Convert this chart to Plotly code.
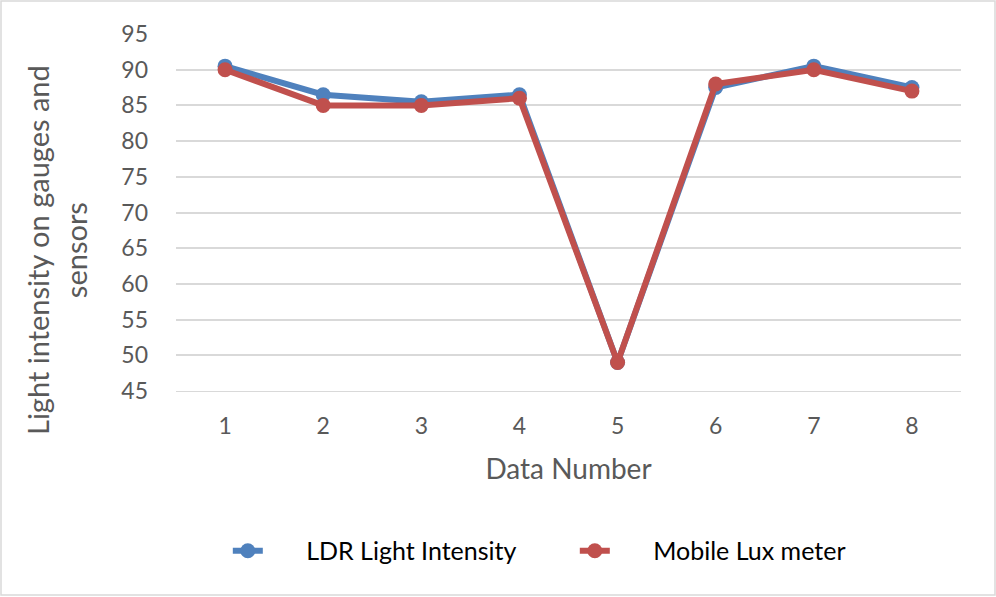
import plotly.graph_objects as go

# data
data_number = [1, 2, 3, 4, 5, 6, 7, 8]
ldr_intensity = [90.5, 86.5, 85.5, 86.5, 49, 87.5, 90.5, 87.5]
mobile_lux = [90, 85, 85, 86, 49, 88, 90, 87]

BLUE = '#4F81BD'
RED = '#C0504D'
TEXT = '#595959'
FONT = 'Lato'
PAD = '\u00a0' * 6

fig = go.Figure()

fig.add_trace(go.Scatter(
    x=data_number, y=ldr_intensity, mode='lines+markers',
    name=PAD + 'LDR Light Intensity',
    line=dict(color=BLUE, width=6),
    marker=dict(color=BLUE, size=15)
))

fig.add_trace(go.Scatter(
    x=data_number, y=mobile_lux, mode='lines+markers',
    name=PAD + 'Mobile Lux meter',
    line=dict(color=RED, width=6),
    marker=dict(color=RED, size=15)
))

fig.update_layout(
    width=996, height=597,
    paper_bgcolor='white', plot_bgcolor='white',
    margin=dict(l=176, r=35, t=34, b=206, autoexpand=False),
    font=dict(family=FONT, color=TEXT, size=23),
    showlegend=True,
    legend=dict(
        orientation='h', x=0.066, xanchor='left', y=-0.448, yanchor='middle',
        font=dict(size=25, color='#000000'), traceorder='normal',
        entrywidth=302
    ),
    xaxis=dict(
        title=dict(text='Data Number', font=dict(size=28, color=TEXT), standoff=21),
        range=[0.5, 8.5], tickmode='array', tickvals=data_number,
        showgrid=False, zeroline=False, showline=True, linecolor='#D9D9D9',
        ticks='', tickfont=dict(size=23, color=TEXT), ticklabelstandoff=14
    ),
    yaxis=dict(
        range=[45, 95], dtick=5, showgrid=True, gridcolor='#D9D9D9', gridwidth=1.5,
        zeroline=False, ticks='', tickfont=dict(size=23, color=TEXT),
        ticklabelstandoff=27
    ),
    annotations=[dict(
        text='Light intensity on gauges and<br>sensors', textangle=-90,
        xref='paper', yref='paper', x=-0.1516, y=0.395,
        xanchor='center', yanchor='middle',
        showarrow=False, font=dict(size=29, color=TEXT)
    )],
    shapes=[dict(
        type='rect', xref='paper', yref='paper',
        x0=-175 / 785, x1=819 / 785, y0=-204 / 357, y1=390 / 357,
        line=dict(color='#D9D9D9', width=1.5), layer='below'
    )]
)

fig.write_html('out.html', config={'displayModeBar': False},
               post_script="document.body.style.margin='0';")
